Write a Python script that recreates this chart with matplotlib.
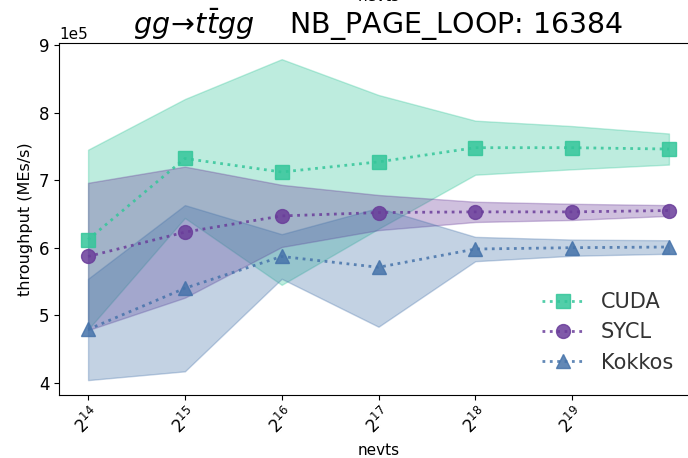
import numpy as np
import matplotlib
matplotlib.use("Agg")
import matplotlib.pyplot as plt

# datos (throughput en MEs/s)
nevts = [2**14, 2**15, 2**16, 2**17, 2**18, 2**19, 2**20]
xticks = [2**14, 2**15, 2**16, 2**17, 2**18, 2**19]

cuda_mean = [6.12e5, 7.32e5, 7.12e5, 7.27e5, 7.48e5, 7.48e5, 7.46e5]
cuda_err = [1.33e5, 0.88e5, 1.67e5, 0.99e5, 0.40e5, 0.32e5, 0.23e5]
sycl_mean = [5.87e5, 6.23e5, 6.47e5, 6.52e5, 6.53e5, 6.53e5, 6.55e5]
sycl_err = [1.09e5, 0.97e5, 0.46e5, 0.26e5, 0.15e5, 0.12e5, 0.08e5]
kokkos_mean = [4.79e5, 5.40e5, 5.87e5, 5.71e5, 5.98e5, 6.00e5, 6.01e5]
kokkos_err = [0.75e5, 1.23e5, 0.33e5, 0.88e5, 0.18e5, 0.12e5, 0.10e5]

series = [
    ("CUDA", cuda_mean, cuda_err, "#34c69a", "s"),
    ("SYCL", sycl_mean, sycl_err, "#6a3d9a", "o"),
    ("Kokkos", kokkos_mean, kokkos_err, "#4673aa", "^"),
]

fig = plt.figure(figsize=(6.88, 4.58), dpi=100)
ax = fig.add_axes([0.0858, 0.1376, 0.9287, 0.7686])

for name, mean, err, color, marker in series:
    mean = np.array(mean)
    err = np.array(err)
    ax.fill_between(nevts, mean - err, mean + err, color=color, alpha=0.32, linewidth=1)
    ax.plot(nevts, mean, linestyle=":", linewidth=2, color=color, alpha=0.85,
            marker=marker, markersize=10, markeredgecolor=color, label=name)

ax.set_xscale("log", base=2)
ax.set_xlim(2**13.7, 2**20.3)
ax.set_ylim(3.82e5, 9.03e5)
ax.set_xticks(xticks)
ax.minorticks_off()
ax.ticklabel_format(axis="y", style="sci", scilimits=(5, 5))
ax.yaxis.get_offset_text().set_fontsize(11)
ax.tick_params(axis="both", labelsize=12)
for lbl in ax.get_xticklabels():
    lbl.set_rotation(45)

ax.set_xlabel("nevts", fontsize=11)
ax.set_ylabel("throughput (MEs/s)", fontsize=11.5)
ax.set_title(r"$gg\!\to\! t\bar{t}gg$    NB_PAGE_LOOP: 16384", fontsize=20.5)

# etiqueta superior cortada
fig.text(0.55, 0.992, "nevts", fontsize=11, ha="center", va="bottom")

leg = ax.legend(loc="lower right", bbox_to_anchor=(0.99, 0.01), frameon=False, fontsize=15)
for t in leg.get_texts():
    t.set_color("#333333")

plt.savefig("out.png", dpi=100)
